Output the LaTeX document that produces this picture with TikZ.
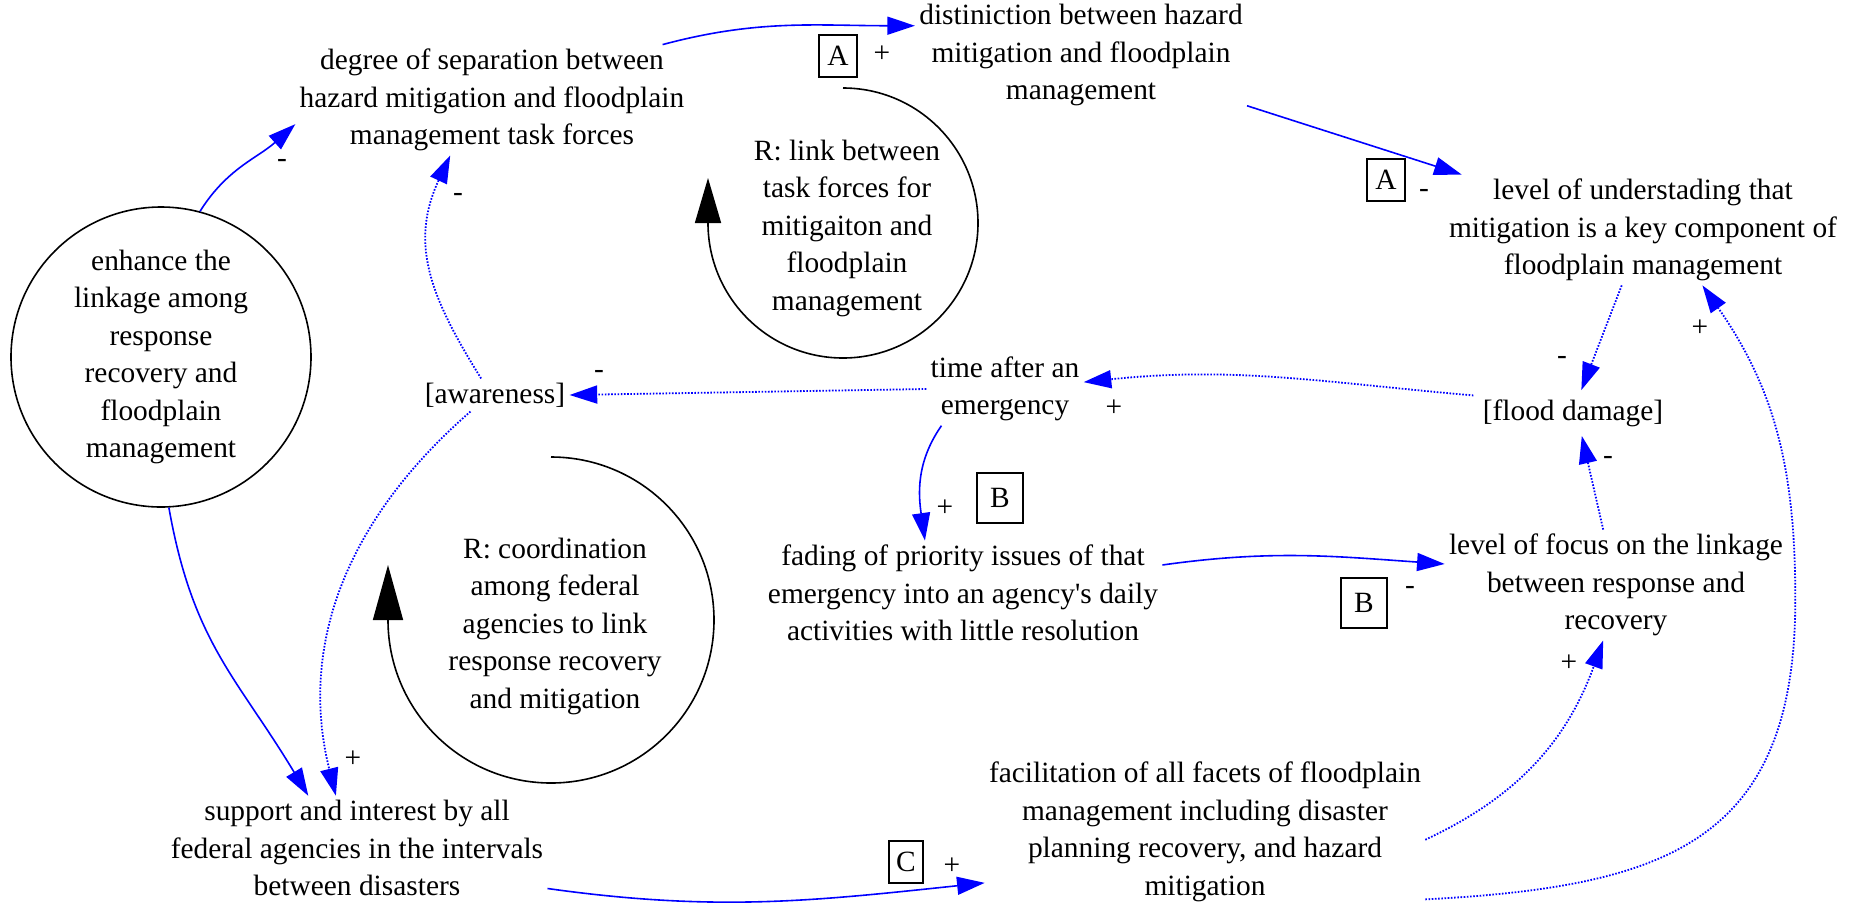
\documentclass[tikz,border=0pt]{standalone}
\usepackage{fontspec}
\setmainfont{Liberation Serif}
\usetikzlibrary{arrows.meta}

\begin{document}
\begin{tikzpicture}[x=0.5pt,y=-0.5pt,
  font=\fontsize{14.7pt}{18.75pt}\selectfont,
  var/.style={align=center, inner sep=2pt},
  lnk/.style={blue, line width=0.8pt, -{Triangle[length=13.8pt,width=9pt]}},
  dlnk/.style={lnk, line width=0.9pt, dash pattern=on 0.8pt off 0.8pt},
  sgn/.style={inner sep=0pt},
  tagbox/.style={draw, line width=0.8pt, minimum width=19pt, minimum height=21pt, inner sep=0pt},
  ring/.style={black, line width=0.8pt}]
\useasboundingbox (0,0) rectangle (1860,907);
\node[var] (sep) at (492,100) {degree of separation between\\hazard mitigation and floodplain\\management task forces};
\node[var] (dist) at (1081,55) {distiniction between hazard\\mitigation and floodplain\\management};
\node[var] (und) at (1643,230) {level of understading that\\mitigation is a key component of\\floodplain management};
\node[var, inner sep=4.5pt] (flood) at (1573,413) {[flood damage]};
\node[var] (time) at (1005,389) {time after an\\emergency};
\node[var] (aware) at (495,395) {[awareness]};
\node[var, draw, circle, minimum size=150pt, inner sep=0pt, line width=0.8pt] (enh) at (161,357) {enhance the\\linkage among\\response\\recovery and\\floodplain\\management};
\node[var] (lk) at (847,228) {R: link between\\task forces for\\mitigaiton and\\floodplain\\management};
\node[var] (crd) at (555,626) {R: coordination\\among federal\\agencies to link\\response recovery\\and mitigation};
\node[var] (fad) at (963,593) {fading of priority issues of that\\emergency into an agency\textquotesingle s daily\\activities with little resolution};
\node[var] (foc) at (1616,585) {level of focus on the linkage\\between response and\\recovery};
\node[var] (fac) at (1205,832) {facilitation of all facets of floodplain\\management including disaster\\planning recovery, and hazard\\mitigation};
\node[var] (sup) at (357,848) {support and interest by all\\federal agencies in the intervals\\between disasters};

\coordinate (lkc) at (843,223);
\coordinate (crdc) at (551,620);
\draw[ring, -{Triangle[length=22.5pt,width=13pt]}] ([yshift=67.5pt]lkc) arc[start angle=90, end angle=-180, radius=67.5pt] -- ++(0,-45);
\draw[ring, -{Triangle[length=27.5pt,width=15pt]}] ([yshift=81.5pt]crdc) arc[start angle=90, end angle=-180, radius=81.5pt] -- ++(0,-55);

\draw[lnk] (enh.75) to[out=58,in=222] (sep.187);
\draw[lnk] (sep.18) to[out=15,in=180] (dist.170);
\draw[lnk] (dist.-17) -- (und.163);
\draw[dlnk] (und.-111) -- (flood.70);
\draw[dlnk] (flood.170) to[out=175,in=6] (time.5);
\draw[dlnk] (time.west) -- (aware.east);
\draw[dlnk] (aware.130) to[out=122,in=245,looseness=1.1] (sep.-127);
\draw[dlnk] (aware.-146) to[out=221,in=104] (sup.112);
\draw[lnk] (enh.-87) to[out=-80,in=121,looseness=1.1] (sup.133);
\draw[lnk] (time.-150) to[out=235,in=98] (fad.126);
\draw[lnk] (fad.8) to[out=8,in=176] (foc.173);
\draw[dlnk] (foc.103) -- (flood.-69);
\draw[dlnk] (fac.-2) to[out=25,in=250] (foc.-103);
\draw[dlnk] (fac.-17) to[out=3,in=-90,looseness=1.3] ++(370,-300) to[out=90,in=-55] (und.-43);
\draw[lnk] (sup.-12) to[out=-8,in=186] (fac.193);

\node[sgn] (s1) at (282,163) {-};
\node[tagbox] (ta1) at (838,56) {A};
\node[sgn] (s2) at (882,54) {+};
\node[tagbox] (ta2) at (1386,180) {A};
\node[sgn] (s3) at (1424,193) {-};
\node[sgn] (s4) at (1562,360) {-};
\node[sgn] (s5) at (1114,408) {+};
\node[sgn] (s6) at (599,374) {-};
\node[sgn] (s7) at (458,197) {-};
\node[sgn] (s8) at (353,759) {+};
\node[sgn] (s9) at (945,508) {+};
\node[tagbox, minimum width=23pt, minimum height=25pt] (tb1) at (1000,498) {B};
\node[tagbox, minimum width=23pt, minimum height=25pt] (tb2) at (1364,603) {B};
\node[sgn] (s10) at (1410,590) {-};
\node[sgn] (s11) at (1608,460) {-};
\node[sgn] (s12) at (1569,663) {+};
\node[sgn] (s13) at (1700,328) {+};
\node[tagbox, minimum width=17pt] (tc1) at (906,862) {C};
\node[sgn] (s14) at (952,866) {+};
\end{tikzpicture}
\end{document}
